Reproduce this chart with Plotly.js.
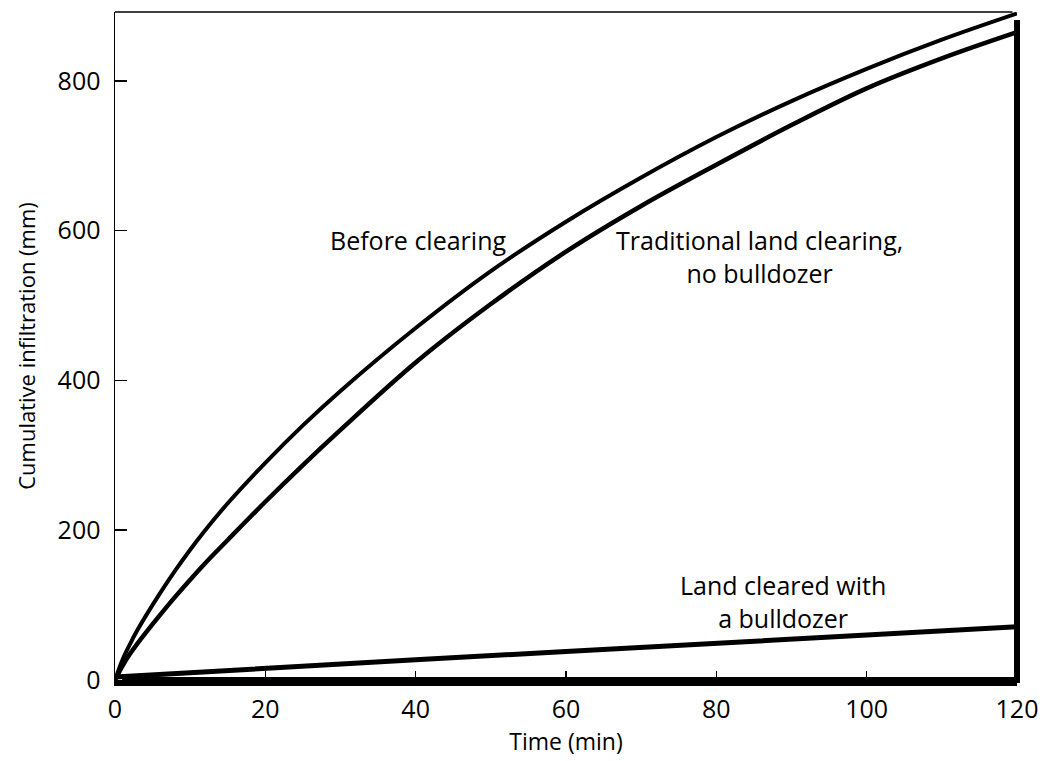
<!DOCTYPE html>
<html>
<head>
<meta charset="utf-8">
<script src="https://cdn.plot.ly/plotly-3.0.1.min.js"></script>
<style>html,body{margin:0;padding:0;background:#fff;}#chart{width:1046px;height:761px;}</style>
</head>
<body>
<div id="chart"></div>
<script>
// Time (min)
const timeBefore = [0, 1, 2, 3, 4, 6, 8, 10, 12, 15, 20, 25, 30, 40, 50, 60, 70, 80, 90, 100, 110, 120];
const beforeClearing = [0, 27, 48, 67, 84, 116, 146, 174, 200, 236, 290, 340, 386, 470, 546, 612, 671, 725, 773, 816, 855, 890];
const timeTraditional = [0, 1, 2, 3, 4, 6, 8, 10, 12, 15, 20, 25, 30, 40, 50, 60, 70, 80, 90, 100, 110, 120];
const traditionalClearing = [0, 19, 35, 49, 62, 87, 111, 134, 156, 187, 238, 287, 334, 424, 502, 572, 633, 688, 741, 790, 830, 865];
const timeBulldozer = [0, 20, 40, 60, 80, 100, 120];
const bulldozerCleared = [4, 16, 27, 38, 49, 60, 71];

const xTicks = [0, 20, 40, 60, 80, 100, 120];
const xTickText = ['0', '20', '40', '60', '80', '100', '120'];
const yTicks = [0, 200, 400, 600, 800];
const yTickText = ['0', '200', '400', '600', '800'];

const labels = [
  {text: 'Before clearing', x: 40.3, y: 587},
  {text: 'Traditional land clearing,<br>no bulldozer', x: 85.8, y: 566},
  {text: 'Land cleared with<br>a bulldozer', x: 88.9, y: 105}
];

const FONT = '"Open Sans", Lato, sans-serif';

const traces = [
  {x: timeBefore, y: beforeClearing, mode: 'lines', line: {color: '#000', width: 4, shape: 'spline', smoothing: 1}, hoverinfo: 'skip'},
  {x: timeTraditional, y: traditionalClearing, mode: 'lines', line: {color: '#000', width: 4.5, shape: 'spline', smoothing: 1}, hoverinfo: 'skip'},
  {x: timeBulldozer, y: bulldozerCleared, mode: 'lines', line: {color: '#000', width: 5}, hoverinfo: 'skip'}
];

const layout = {
  width: 1046, height: 761,
  margin: {l: 115, r: 29, t: 12, b: 81},
  paper_bgcolor: '#fff', plot_bgcolor: '#fff',
  showlegend: false,
  font: {family: FONT, color: '#000'},
  xaxis: {
    range: [0, 120], tickvals: xTicks, ticktext: xTickText,
    ticks: 'inside', ticklen: 9, tickwidth: 1.5, tickcolor: '#000',
    showline: true, linewidth: 6, linecolor: '#000',
    showgrid: false, zeroline: false,
    tickfont: {family: FONT, size: 25, color: '#000'},
    ticklabelstandoff: 2,
    title: {text: 'Time (min)', font: {family: FONT, size: 23, color: '#000'}, standoff: 4},
    fixedrange: true
  },
  yaxis: {
    range: [0, 892], tickvals: yTicks, ticktext: yTickText,
    ticks: 'inside', ticklen: 12, tickwidth: 1.5, tickcolor: '#000',
    showline: true, linewidth: 1.5, linecolor: '#000',
    showgrid: false, zeroline: false,
    tickfont: {family: FONT, size: 25, color: '#000'},
    title: {text: 'Cumulative infiltration (mm)', font: {family: FONT, size: 22, color: '#000'}, standoff: 16},
    ticklabelstandoff: 8,
    fixedrange: true
  },
  shapes: [
    {type: 'line', xref: 'paper', yref: 'paper', layer: 'above', x0: 0, x1: 0.995, y0: 1, y1: 1, line: {color: '#000', width: 1.5}},
    {type: 'line', xref: 'paper', yref: 'paper', layer: 'above', x0: 0.008, x1: 1.003, y0: 0, y1: 0, line: {color: '#000', width: 6}},
    {type: 'line', xref: 'paper', yref: 'paper', layer: 'above', x0: 1, x1: 1, y0: -0.004, y1: 0.988, line: {color: '#000', width: 6}}
  ],
  annotations: labels.map(a => ({
    text: a.text, x: a.x, y: a.y, xref: 'x', yref: 'y', showarrow: false,
    align: 'center', font: {family: FONT, size: 25, color: '#000'}
  }))
};

Plotly.newPlot('chart', traces, layout, {displayModeBar: false, staticPlot: true});
</script>
</body>
</html>
